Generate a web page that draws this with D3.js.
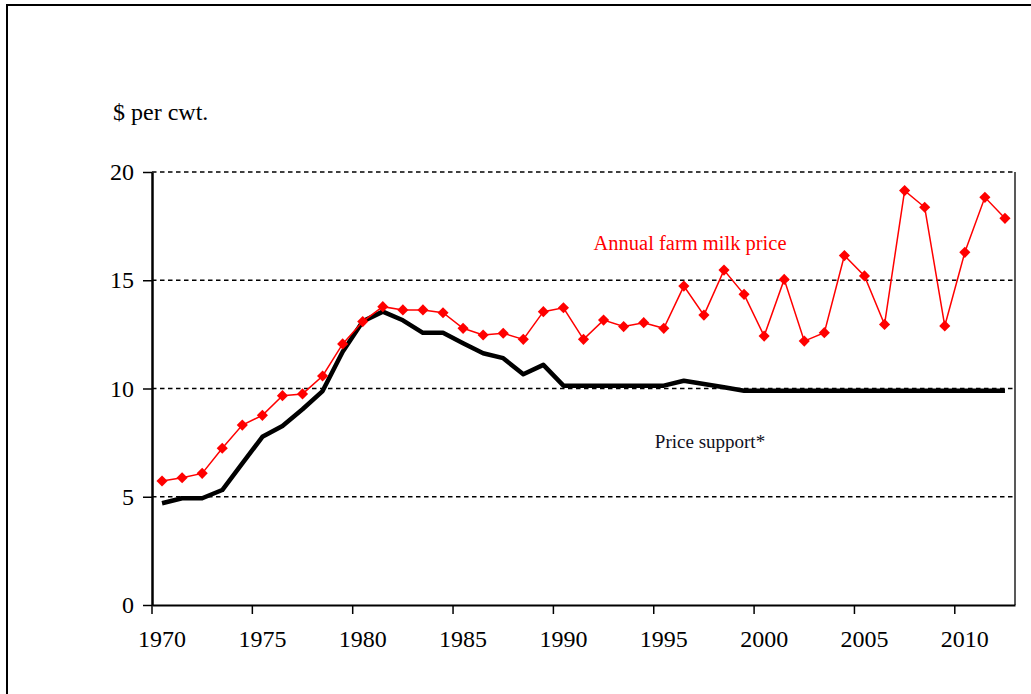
<!DOCTYPE html>
<meta charset="utf-8">
<script src="https://d3js.org/d3.v7.min.js"></script>
<style>
  body { margin: 0; background: #fff; }
</style>
<div id="my_dataviz"></div>

<script>
    // data
    var years = d3.range(1970, 2013);
    var farmPrice = [5.73, 5.88, 6.08, 7.24, 8.31, 8.76, 9.67, 9.75, 10.58, 12.06,
        13.09, 13.78, 13.63, 13.63, 13.5, 12.78, 12.47, 12.55, 12.27, 13.55,
        13.73, 12.27, 13.16, 12.86, 13.04, 12.78, 14.73, 13.39, 15.47, 14.35,
        12.42, 15.04, 12.19, 12.58, 16.14, 15.2, 12.96, 19.14, 18.37, 12.89,
        16.29, 18.83, 17.86];
    var supportPrice = [4.7, 4.93, 4.93, 5.31, 6.54, 7.77, 8.27, 9.04, 9.88, 11.7,
        13.1, 13.55, 13.15, 12.57, 12.57, 12.09, 11.63, 11.4, 10.66, 11.09,
        10.13, 10.13, 10.13, 10.13, 10.13, 10.13, 10.36, 10.21, 10.06, 9.9,
        9.9, 9.9, 9.9, 9.9, 9.9, 9.9, 9.9, 9.9, 9.9, 9.9,
        9.9, 9.9, 9.9];
    var yTicks = [0, 5, 10, 15, 20];
    var xLabelYears = [1970, 1975, 1980, 1985, 1990, 1995, 2000, 2005, 2010];

    var W = 1031, H = 694;
    var plotLeft = 152, plotRight = 1015, plotTop = 172, plotBottom = 605;
    var serif = "'Liberation Serif', 'Times New Roman', serif";

    var svg = d3.select("#my_dataviz")
        .append("svg")
        .attr("width", W)
        .attr("height", H)
        .style("font-family", serif);

    // outer frame (runs off right and bottom edge)
    svg.append("path")
        .attr("d", "M7,694 L7,5 L1031,5")
        .attr("fill", "none")
        .attr("stroke", "black")
        .attr("stroke-width", 2);

    var x = d3.scaleBand()
        .domain(years)
        .range([plotLeft, plotRight])
        .padding(0);
    var y = d3.scaleLinear()
        .domain([0, 20])
        .range([plotBottom, plotTop]);
    var cx = function (yr) { return x(yr) + x.bandwidth() / 2; };

    // gridlines
    svg.selectAll("grid")
        .data(yTicks.filter(function (d) { return d > 0; }))
        .enter()
        .append("line")
        .attr("x1", plotLeft)
        .attr("x2", plotRight)
        .attr("y1", function (d) { return y(d); })
        .attr("y2", function (d) { return y(d); })
        .attr("stroke", "black")
        .attr("stroke-width", 1.5)
        .attr("stroke-dasharray", "4.5,3.5");

    // right border of plot area
    svg.append("line")
        .attr("x1", plotRight).attr("x2", plotRight)
        .attr("y1", plotTop).attr("y2", plotBottom)
        .attr("stroke", "#222")
        .attr("stroke-width", 1.5);

    // Y axis
    var yAxis = svg.append("g")
        .attr("transform", "translate(" + plotLeft + ",0)")
        .call(d3.axisLeft(y).tickValues(yTicks).tickSize(9).tickSizeOuter(0).tickPadding(9));
    yAxis.attr("font-family", serif);
    yAxis.select(".domain").attr("stroke-width", 2.5);
    yAxis.selectAll(".tick line").attr("stroke-width", 1.5);
    yAxis.selectAll("text")
        .style("font-size", "24px")
        .attr("fill", "black");

    // X axis: labels at category centers, ticks at category edges
    var xAxis = svg.append("g")
        .attr("transform", "translate(0," + plotBottom + ")")
        .call(d3.axisBottom(x).tickValues(xLabelYears).tickSize(0).tickSizeOuter(0).tickPadding(25));
    xAxis.attr("font-family", serif);
    xAxis.select(".domain").attr("stroke-width", 2);
    xAxis.selectAll("text")
        .style("font-size", "24px")
        .attr("fill", "black");

    svg.selectAll("xtick")
        .data(xLabelYears)
        .enter()
        .append("line")
        .attr("x1", function (d) { return x(d); })
        .attr("x2", function (d) { return x(d); })
        .attr("y1", plotBottom)
        .attr("y2", plotBottom + 9)
        .attr("stroke", "black")
        .attr("stroke-width", 1.5);

    // Price support line
    var lineGen = d3.line()
        .x(function (d, i) { return cx(years[i]); })
        .y(function (d) { return y(d); });
    svg.append("path")
        .datum(supportPrice)
        .attr("d", lineGen)
        .attr("fill", "none")
        .attr("stroke", "black")
        .attr("stroke-width", 4.5)
        .attr("stroke-linejoin", "round");

    // Farm milk price line
    svg.append("path")
        .datum(farmPrice)
        .attr("d", lineGen)
        .attr("fill", "none")
        .attr("stroke", "#ff0000")
        .attr("stroke-width", 1.5);

    // diamonds
    svg.selectAll("mydiamond")
        .data(farmPrice)
        .enter()
        .append("path")
        .attr("d", d3.symbol().type(d3.symbolSquare).size(62))
        .attr("transform", function (d, i) {
            return "translate(" + cx(years[i]) + "," + y(d) + ") rotate(45)";
        })
        .attr("fill", "#ff0000");

    // labels
    svg.append("text")
        .attr("x", 113)
        .attr("y", 120)
        .style("font-size", "24px")
        .text("$ per cwt.");

    svg.append("text")
        .attr("x", 690)
        .attr("y", 250)
        .attr("text-anchor", "middle")
        .attr("fill", "#ff0000")
        .style("font-size", "20.5px")
        .text("Annual farm milk price");

    svg.append("text")
        .attr("x", 710)
        .attr("y", 448)
        .attr("text-anchor", "middle")
        .attr("fill", "#111122")
        .style("font-size", "19px")
        .text("Price support*");
</script>
